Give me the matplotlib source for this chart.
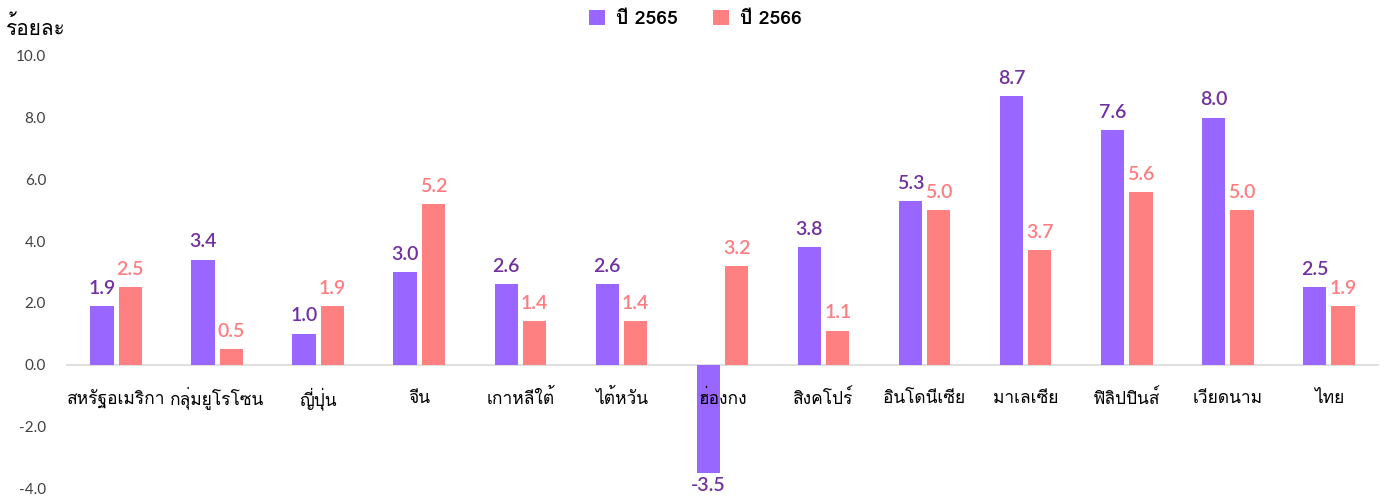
import matplotlib
matplotlib.use('Agg')
import matplotlib.pyplot as plt
from matplotlib import font_manager
from matplotlib.ft2font import FT2Font
import numpy as np

countries = ['สหรัฐอเมริกา', 'กลุ่มยูโรโซน', 'ญี่ปุ่น', 'จีน', 'เกาหลีใต้', 'ไต้หวัน', 'ฮ่องกง',
             'สิงคโปร์', 'อินโดนีเซีย', 'มาเลเซีย', 'ฟิลิปปินส์', 'เวียดนาม', 'ไทย']
y2565 = [1.9, 3.4, 1.0, 3.0, 2.6, 2.6, -3.5, 3.8, 5.3, 8.7, 7.6, 8.0, 2.5]
y2566 = [2.5, 0.5, 1.9, 5.2, 1.4, 1.4, 3.2, 1.1, 5.0, 3.7, 5.6, 5.0, 1.9]
series_names = ['ปี 2565', 'ปี 2566']
yticks = [-4, -2, 0, 2, 4, 6, 8, 10]


def find_thai_font():
    # pick an installed font that has Thai glyphs
    for f in font_manager.fontManager.ttflist:
        try:
            if 0x0E23 in FT2Font(f.fname).get_charmap():
                return f.name
        except Exception:
            pass
    return None


thai = find_thai_font()
families = ([thai] if thai else []) + ['DejaVu Sans']
plt.rcParams['font.family'] = families

purple = '#9966FF'
pink = '#FF8080'
purple_txt = '#7030A0'
pink_txt = '#FF7C80'

fig = plt.figure(figsize=(13.85, 4.96), dpi=100)
ax = fig.add_axes([0.0473, 0.0161, 0.9487, 0.8710])

x = np.arange(len(countries))
w = 0.23
b1 = ax.bar(x - 0.14, y2565, w, color=purple, label=series_names[0], zorder=1)
b2 = ax.bar(x + 0.14, y2566, w, color=pink, label=series_names[1], zorder=1)

for xi, v in zip(x - 0.14, y2565):
    ax.text(xi, v + (0.3 if v >= 0 else -0.15), f'{v:.1f}', ha='center',
            va='bottom' if v >= 0 else 'top', color=purple_txt, fontsize=14,
            family='Lato', weight='semibold')
for xi, v in zip(x + 0.14, y2566):
    ax.text(xi, v + 0.3, f'{v:.1f}', ha='center', va='bottom', color=pink_txt,
            fontsize=14, family='Lato', weight='semibold')

for xi, name in zip(x, countries):
    ax.text(xi, -1.1, name, ha='center', va='center', fontsize=12.5, color='black', zorder=5)

ax.axhline(0, color='#D9D9D9', lw=1.2, zorder=0)
ax.set_xlim(-0.5, len(countries) - 0.5)
ax.set_ylim(-4, 10)
ax.set_yticks(yticks)
ax.set_yticklabels([f'{t:.1f}' for t in yticks], fontsize=11, color='#404040', family='Lato')
ax.tick_params(axis='y', length=0, pad=14)
ax.set_xticks([])
for s in ax.spines.values():
    s.set_visible(False)

fig.text(0.004, 0.945, 'ร้อยละ', fontsize=15, va='center', ha='left')

fig.legend(handles=[b1, b2], loc='center', bbox_to_anchor=(0.502, 0.962), ncol=2,
           frameon=False, handlelength=0.85, handleheight=0.85,
           columnspacing=1.8, handletextpad=0.55, prop={'weight': 'bold', 'size': 14})

fig.savefig('out.png', dpi=100)
